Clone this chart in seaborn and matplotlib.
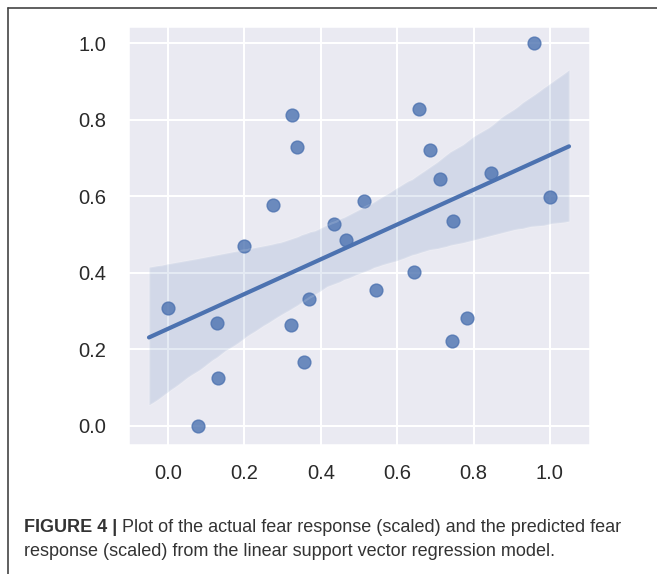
import numpy as np, pandas as pd
import matplotlib
matplotlib.use("Agg")  # headless
import matplotlib.pyplot as plt
from matplotlib.lines import Line2D
import seaborn as sns

# actual vs predicted fear response (scaled)
actual = [0.000, 0.079, 0.129, 0.132, 0.200, 0.276, 0.324, 0.337, 0.322, 0.356,
          0.368, 0.435, 0.465, 0.513, 0.545, 0.645, 0.658, 0.687, 0.712, 0.745,
          0.744, 0.783, 0.847, 0.959, 1.000]
predicted = [0.309, 0.000, 0.269, 0.125, 0.470, 0.576, 0.813, 0.730, 0.264, 0.167,
             0.332, 0.527, 0.487, 0.587, 0.356, 0.402, 0.829, 0.721, 0.645, 0.536,
             0.223, 0.283, 0.661, 1.000, 0.599]
ticks = [0.0, 0.2, 0.4, 0.6, 0.8, 1.0]
caption_bold = "FIGURE 4 | "
caption_1 = "Plot of the actual fear response (scaled) and the predicted fear"
caption_2 = "response (scaled) from the linear support vector regression model."

df = pd.DataFrame({"actual": actual, "predicted": predicted})

sns.set_theme(context="talk", style="darkgrid")
plt.rcParams["font.family"] = ["Liberation Sans", "DejaVu Sans"]

fig = plt.figure(figsize=(6.57, 5.74), dpi=100)
ax = fig.add_axes([128 / 657, 1 - 445 / 574, 462 / 657, 419 / 574])
sns.regplot(data=df, x="actual", y="predicted", ax=ax, truncate=False, seed=3,
            color="#4c72b0", scatter_kws={"s": 85}, line_kws={"lw": 3})
# line spans the padded data range; axis gets a further margin around it
ax.set_xlim(-0.105, 1.105)
ax.set_ylim(-0.05, 1.045)
ax.set_xticks(ticks)
ax.set_yticks(ticks)
ax.set_xlabel("")
ax.set_ylabel("")
ax.tick_params(axis="both", length=0, labelsize=14.5, colors="#2a2a2a")
ax.tick_params(axis="x", pad=13.5)
ax.tick_params(axis="y", pad=15.5)

# frame lines at top and left of the figure panel
fig.add_artist(Line2D([8 / 657, 1], [1 - 8 / 574, 1 - 8 / 574], color="#444444", lw=1.2,
                      transform=fig.transFigure))
fig.add_artist(Line2D([8 / 657, 8 / 657], [0, 1 - 8 / 574], color="#444444", lw=1.2,
                      transform=fig.transFigure))

# caption
y1 = 1 - 532 / 574
y2 = 1 - 556 / 574
tb = fig.text(24 / 657, y1, caption_bold, fontsize=13, fontweight="bold", color="#333333")
fig.canvas.draw()
bb = tb.get_window_extent().transformed(fig.transFigure.inverted())
fig.text(bb.x1, y1, caption_1, fontsize=13, color="#333333")
fig.text(24 / 657, y2, caption_2, fontsize=13, color="#333333")

fig.savefig("out.png", dpi=100)
plt.close(fig)
